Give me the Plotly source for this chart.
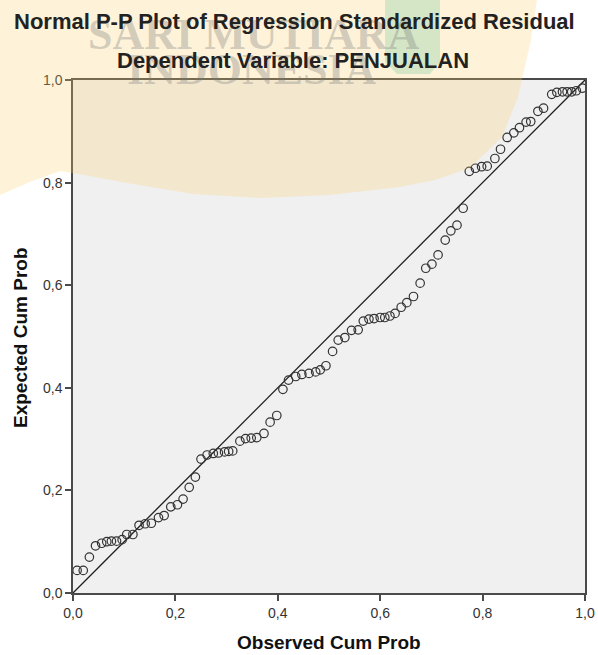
import plotly.graph_objects as go

# ---- data ----
observed_cum_prob = [
    0.008, 0.020, 0.032, 0.044, 0.056, 0.066, 0.075, 0.085, 0.096, 0.105,
    0.117, 0.129, 0.141, 0.153, 0.167, 0.178, 0.191, 0.204, 0.215, 0.227,
    0.239, 0.250, 0.262, 0.274, 0.284, 0.296, 0.304, 0.312, 0.326, 0.337,
    0.348, 0.359, 0.373, 0.385, 0.398, 0.410, 0.421, 0.435, 0.447, 0.461,
    0.474, 0.483, 0.494, 0.507, 0.518, 0.531, 0.544, 0.557, 0.567, 0.578,
    0.588, 0.600, 0.609, 0.619, 0.629, 0.641, 0.652, 0.665, 0.678, 0.689,
    0.701, 0.713, 0.727, 0.738, 0.750, 0.762, 0.774, 0.786, 0.798, 0.809,
    0.824, 0.835, 0.848, 0.861, 0.872, 0.885, 0.894, 0.908, 0.919, 0.935,
    0.945, 0.956, 0.965, 0.974, 0.983, 0.995,
]
expected_cum_prob = [
    0.044, 0.044, 0.070, 0.092, 0.097, 0.100, 0.101, 0.101, 0.104, 0.114,
    0.114, 0.132, 0.135, 0.136, 0.147, 0.151, 0.168, 0.172, 0.183, 0.206,
    0.226, 0.261, 0.269, 0.272, 0.273, 0.275, 0.276, 0.277, 0.296, 0.301,
    0.302, 0.303, 0.311, 0.333, 0.346, 0.397, 0.415, 0.422, 0.426, 0.428,
    0.431, 0.435, 0.443, 0.471, 0.493, 0.498, 0.512, 0.513, 0.530, 0.534,
    0.535, 0.537, 0.537, 0.540, 0.545, 0.557, 0.566, 0.578, 0.604, 0.633,
    0.641, 0.659, 0.688, 0.706, 0.717, 0.750, 0.822, 0.828, 0.831, 0.832,
    0.847, 0.865, 0.888, 0.897, 0.907, 0.918, 0.919, 0.939, 0.945, 0.972,
    0.976, 0.977, 0.977, 0.977, 0.979, 0.984,
]
reference_line = [0.0, 1.0]
tick_values = [0.0, 0.2, 0.4, 0.6, 0.8, 1.0]

title_line1 = "Normal P-P Plot of Regression Standardized Residual"
title_line2 = "Dependent Variable: PENJUALAN"
x_title = "Observed Cum Prob"
y_title = "Expected Cum Prob"

# ---- layout geometry ----
W, H = 598, 655
L, R, T, B = 73, 13, 80, 62
PW, PH = W - L - R, H - T - B


def fx(x):
    return (x - L) / PW


def fy(y):
    return (H - B - y) / PH


def path_from(points):
    return "M " + " L ".join(f"{fx(a):.4f},{fy(b):.4f}" for a, b in points) + " Z"


FONT = "Liberation Sans, Arial, sans-serif"
AXIS_COLOR = "#4a4a4a"

fig = go.Figure()
fig.add_trace(go.Scatter(
    x=reference_line, y=reference_line, mode="lines",
    line=dict(color="#1e1e1e", width=1.3), hoverinfo="skip", showlegend=False,
))
fig.add_trace(go.Scatter(
    x=observed_cum_prob, y=expected_cum_prob, mode="markers",
    marker=dict(symbol="circle-open", size=8.5, color="#333333",
                line=dict(color="#333333", width=1.2)),
    showlegend=False,
))

axis_common = dict(
    range=[0, 1], tickvals=tick_values, tickformat=".1f",
    showgrid=False, zeroline=False, showline=True, mirror=True,
    linecolor=AXIS_COLOR, linewidth=1.5,
    ticks="outside", ticklen=6, tickwidth=1.5, tickcolor=AXIS_COLOR,
    tickfont=dict(family=FONT, size=14, color="#333333"),
    fixedrange=True, automargin=False,
)

# watermark blob (decoration of the source image)
blob = [(0, 0), (537, 0), (531, 40), (518, 97), (502, 137), (470, 168),
        (435, 180), (400, 187), (330, 195), (260, 198), (193, 194),
        (127, 183), (73, 173), (60, 171), (30, 182), (0, 195)]
green = [(385, 0), (440, 0), (440, 62), (430, 74), (397, 74), (385, 62)]

shapes = [
    dict(type="path", xref="paper", yref="paper", path=path_from(blob),
         fillcolor="rgba(252,210,110,0.26)", line=dict(width=0), layer="above"),
    dict(type="path", xref="paper", yref="paper", path=path_from(green),
         fillcolor="rgba(150,210,170,0.40)", line=dict(width=0), layer="above"),
]

wm_font = dict(family="Liberation Serif, serif", size=44, color="rgba(120,120,120,0.32)")
annotations = [
    dict(text="<b>SARI MUTIARA</b>", x=fx(253), y=fy(35), xref="paper", yref="paper",
         showarrow=False, xanchor="center", yanchor="middle", font=wm_font),
    dict(text="<b>INDONESIA</b>", x=fx(252), y=fy(70), xref="paper", yref="paper",
         showarrow=False, xanchor="center", yanchor="middle", font=wm_font),
    dict(text=f"<b>{title_line1}</b>", x=fx(294), y=fy(21), xref="paper", yref="paper",
         showarrow=False, xanchor="center", yanchor="middle",
         font=dict(family=FONT, size=22, color="#222222")),
    dict(text=f"<b>{title_line2}</b>", x=fx(293), y=fy(60), xref="paper", yref="paper",
         showarrow=False, xanchor="center", yanchor="middle",
         font=dict(family=FONT, size=22, color="#222222")),
    dict(text=f"<b>{x_title}</b>", x=fx(329), y=fy(642), xref="paper", yref="paper",
         showarrow=False, xanchor="center", yanchor="middle",
         font=dict(family=FONT, size=19, color="#111111")),
    dict(text=f"<b>{y_title}</b>", x=fx(20), y=fy(338), xref="paper", yref="paper",
         showarrow=False, xanchor="center", yanchor="middle", textangle=-90,
         font=dict(family=FONT, size=19, color="#111111")),
]

fig.update_layout(
    width=W, height=H, autosize=False,
    margin=dict(l=L, r=R, t=T, b=B, pad=0, autoexpand=False),
    paper_bgcolor="#ffffff", plot_bgcolor="#f0f0f0",
    separators=",.",
    xaxis=axis_common, yaxis=axis_common,
    shapes=shapes, annotations=annotations,
    showlegend=False,
)

fig.write_html(
    "out.html",
    config={"displayModeBar": False, "responsive": False},
    post_script=(
        "document.body.style.margin='0';"
        "document.body.style.overflow='hidden';"
    ),
)
